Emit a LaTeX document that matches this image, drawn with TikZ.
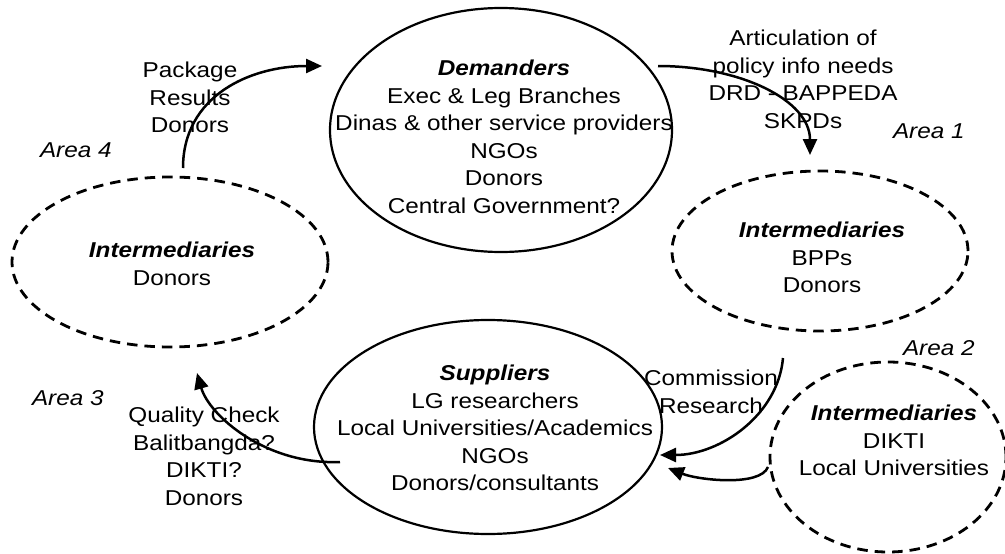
\documentclass[tikz,border=0pt]{standalone}
\usepackage{fontspec}
\setmainfont{Liberation Sans}[FakeStretch=1.13]
\usetikzlibrary{arrows.meta, shapes.geometric, positioning}
\tikzset{
	every node/.style={align=center, inner sep=0pt, outer sep=0pt},
	txt/.style={font=\fontsize{21.5}{27.5}\selectfont, anchor=north},
	area/.style={font=\fontsize{21.5}{27.5}\selectfont\itshape, anchor=base west},
	actor/.style={ellipse, draw, line width=2.2pt},
	inter/.style={ellipse, draw, line width=2.8pt, dash pattern=on 10.5pt off 7pt},
	flow/.style={line width=2.5pt, -{Triangle[length=16pt, width=14pt]}}
}
\newcommand{\ttl}[1]{\textbf{\textit{#1}}}

\begin{document}
\begin{tikzpicture}[x=1pt, y=-1pt]
	\useasboundingbox (0,0) rectangle (1005,554);
	% Ellipses
	\node[actor, minimum width=342, minimum height=244] (dem) at (501,130) {};
	\node[actor, minimum width=348, minimum height=214] (sup) at (488,427) {};
	\node[inter, minimum width=296, minimum height=160] (inte) at (820,251) {};
	\node[inter, minimum width=316, minimum height=170] (intw) at (170,262) {};
	\node[inter, minimum width=236, minimum height=190] (intse) at (888,457) {};
	
	% Texts
	\node[txt] (demtxt) at (504,60) {\ttl{Demanders}\\Exec \& Leg Branches\\Dinas \& other service providers\\NGOs\\Donors\\Central Government?};
	\node[txt] (suptxt) at (495,365) {\ttl{Suppliers}\\LG researchers\\Local Universities/Academics\\NGOs\\Donors/consultants};
	\node[txt] (intetxt) at (822,222) {\ttl{Intermediaries}\\BPPs\\Donors};
	\node[txt] (intwtxt) at (172,242) {\ttl{Intermediaries}\\Donors};
	\node[txt] (intsetxt) at (894,405) {\ttl{Intermediaries}\\DIKTI\\Local Universities};
	
	% Flow labels
	\node[txt] (pkg) at (190,62) {Package\\Results\\Donors};
	\node[txt] (artic) at (803,30) {Articulation of\\policy info needs\\DRD - BAPPEDA\\SKPDs};
	\node[txt] (comm) at (711,370) {Commission\\Research};
	\node[txt] (qual) at (204,407) {Quality Check\\Balitbangda?\\DIKTI?\\Donors};
	
	% Areas
	\node[area] (a1) at (893,138) {Area 1};
	\node[area] (a2) at (903,355) {Area 2};
	\node[area] (a3) at (32,405) {Area 3};
	\node[area] (a4) at (40,157) {Area 4};
	
	% Flows
	\draw[flow] ([shift={(13,-9)}]intw.north) .. controls +(0,-72) and +(-72,0) .. ([shift={(-8,-64)}]dem.west);
	\draw[flow] ([shift={(-14,-64)}]dem.east) .. controls +(82,0) and +(0,-55) .. ([shift={(-10,-16)}]inte.north);
	\draw[flow] ([shift={(-37,27)}]inte.south) .. controls +(-5,57) and +(60,0) .. ([shift={(-2,28)}]sup.east);
	\draw[flow] ([shift={(-2,10)}]intse.west) .. controls +(-8,20) and +(30,12) .. ([shift={(6,41)}]sup.east);
	\draw[flow] ([shift={(26,35)}]sup.west) .. controls +(-75,3) and +(12,42) .. ([shift={(27,26)}]intw.south);
\end{tikzpicture}
\end{document}
